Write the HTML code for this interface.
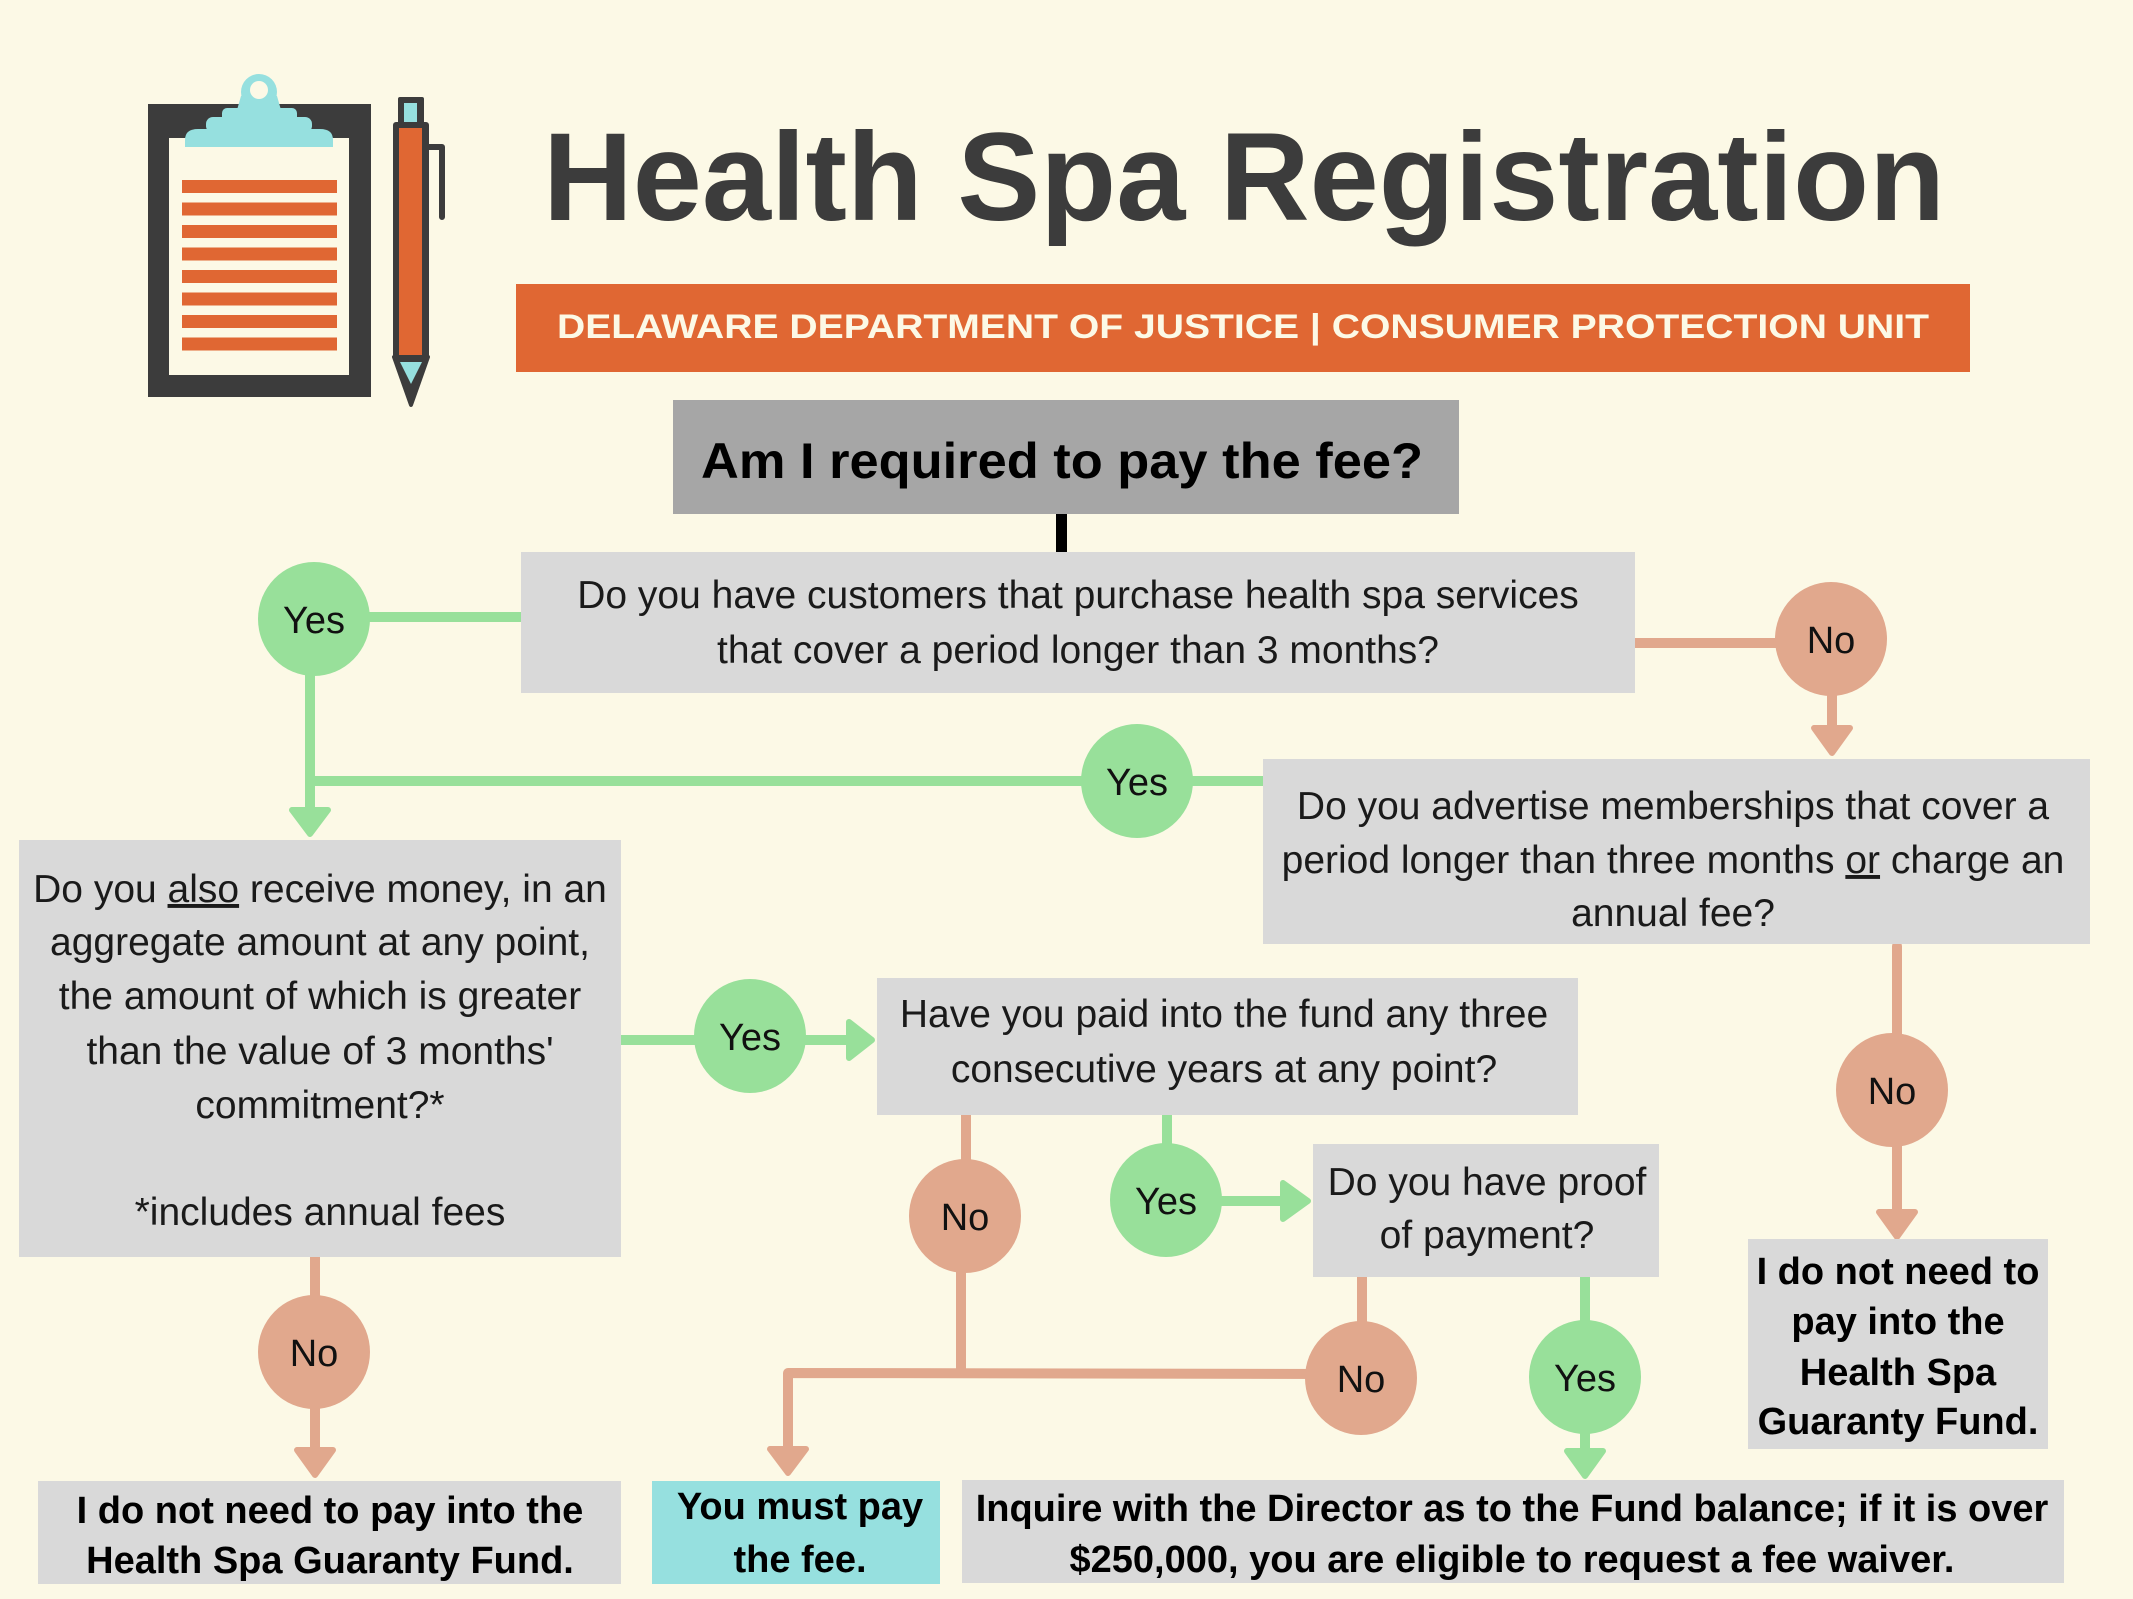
<!DOCTYPE html>
<html>
<head>
<meta charset="utf-8">
<style>
html,body{margin:0;padding:0;background:#FCF9E6;}
svg{display:block;}
.q{font-family:"Liberation Sans",sans-serif;font-size:39px;fill:#1a1a1a;text-anchor:middle;}
.b{font-family:"Liberation Sans",sans-serif;font-size:38px;font-weight:bold;fill:#000;text-anchor:middle;}
.lbl{font-family:"Liberation Sans",sans-serif;font-size:38px;fill:#111;text-anchor:middle;}
</style>
</head>
<body>
<svg width="2133" height="1599" viewBox="0 0 2133 1599" xmlns="http://www.w3.org/2000/svg">
<rect x="0" y="0" width="2133" height="1599" fill="#FCF9E6"/>

<!-- Clipboard icon -->
<rect x="148" y="104" width="223" height="293" fill="#3C3C3C"/>
<rect x="169" y="138" width="180" height="237" fill="#FCF9E6"/>
<g fill="#E06733">
<rect x="182" y="180" width="155" height="13"/>
<rect x="182" y="202.5" width="155" height="13"/>
<rect x="182" y="225" width="155" height="13"/>
<rect x="182" y="247.5" width="155" height="13"/>
<rect x="182" y="270" width="155" height="13"/>
<rect x="182" y="292.5" width="155" height="13"/>
<rect x="182" y="315" width="155" height="13"/>
<rect x="182" y="337.5" width="155" height="13"/>
</g>
<g fill="#96E0DF">
<circle cx="259" cy="92" r="18"/>
<path d="M241 96 L277 96 L281 110 L237 110 Z"/>
<rect x="222" y="108" width="75" height="14" rx="5"/>
<rect x="206" y="117" width="106" height="16" rx="7"/>
<path d="M185 147 L185 140 Q185 129 198 129 L320 129 Q333 129 333 140 L333 147 Z"/>
</g>
<circle cx="259" cy="90" r="9" fill="#FCF9E6"/>

<!-- Pen icon -->
<rect x="398" y="97" width="26" height="30" rx="2" fill="#3C3C3C"/>
<rect x="404" y="103" width="13" height="19" fill="#96E0DF"/>
<rect x="393" y="122" width="36" height="237" rx="3" fill="#3C3C3C"/>
<rect x="399" y="128" width="23" height="227" fill="#E06733"/>
<path d="M429 147 L442 147 L442 217" fill="none" stroke="#3C3C3C" stroke-width="6" stroke-linecap="round" stroke-linejoin="round"/>
<polygon points="394,357 428,357 411,405" fill="#3C3C3C" stroke="#3C3C3C" stroke-width="4" stroke-linejoin="round"/>
<polygon points="400,362 422,362 411,384" fill="#96E0DF"/>

<!-- Title -->
<text x="543" y="220" font-family="Liberation Sans, sans-serif" font-weight="bold" font-size="125" fill="#3C3C3C" textLength="1402" lengthAdjust="spacingAndGlyphs">Health Spa Registration</text>

<!-- Banner -->
<rect x="516" y="284" width="1454" height="88" fill="#E06733"/>
<text x="557" y="338" font-family="Liberation Sans, sans-serif" font-weight="bold" font-size="34" fill="#FCF9E6" textLength="1372" lengthAdjust="spacingAndGlyphs">DELAWARE DEPARTMENT OF JUSTICE | CONSUMER PROTECTION UNIT</text>

<!-- Question title box -->
<rect x="673" y="400" width="786" height="114" fill="#A6A6A6"/>
<text x="701" y="478" font-family="Liberation Sans, sans-serif" font-weight="bold" font-size="50" fill="#000" textLength="722" lengthAdjust="spacingAndGlyphs">Am I required to pay the fee?</text>
<rect x="1056" y="514" width="11" height="39" fill="#000"/>

<!-- Connectors: green -->
<g stroke="#98E09A" stroke-width="10" fill="none" stroke-linecap="butt">
<line x1="314" y1="617" x2="522" y2="617"/>
<line x1="310" y1="619" x2="310" y2="812"/>
<line x1="305" y1="781" x2="1264" y2="781"/>
<line x1="621" y1="1040" x2="852" y2="1040"/>
<line x1="1167" y1="1114" x2="1167" y2="1200"/>
<line x1="1166" y1="1201" x2="1286" y2="1201"/>
<line x1="1585" y1="1276" x2="1585" y2="1453"/>
</g>
<g fill="#98E09A" stroke="#98E09A" stroke-width="6" stroke-linejoin="round">
<polygon points="292,810 328,810 310,834"/>
<polygon points="849,1022 849,1058 872,1040"/>
<polygon points="1283,1183 1283,1219 1308,1201"/>
<polygon points="1567,1451 1603,1451 1585,1476"/>
</g>

<!-- Connectors: orange -->
<g stroke="#E1A88D" stroke-width="10" fill="none" stroke-linecap="round" stroke-linejoin="round">
<line x1="1634" y1="643" x2="1831" y2="643"/>
<line x1="1832" y1="640" x2="1832" y2="730"/>
<line x1="1897" y1="946" x2="1897" y2="1214"/>
<line x1="315" y1="1257" x2="315" y2="1452"/>
<line x1="966" y1="1115" x2="966" y2="1216"/>
<line x1="961" y1="1216" x2="961" y2="1373"/>
<polyline points="1340,1374 788,1373 788,1451"/>
<line x1="1362" y1="1277" x2="1362" y2="1378"/>
</g>
<g fill="#E1A88D" stroke="#E1A88D" stroke-width="6" stroke-linejoin="round">
<polygon points="1814,728 1850,728 1832,753"/>
<polygon points="1879,1212 1915,1212 1897,1237"/>
<polygon points="297,1450 333,1450 315,1475"/>
<polygon points="770,1449 806,1449 788,1473"/>
</g>

<!-- Boxes -->
<rect x="521" y="552" width="1114" height="141" fill="#D9D9D9"/>
<rect x="1263" y="759" width="827" height="185" fill="#D9D9D9"/>
<rect x="19" y="840" width="602" height="417" fill="#D9D9D9"/>
<rect x="877" y="978" width="701" height="137" fill="#D9D9D9"/>
<rect x="1313" y="1144" width="346" height="133" fill="#D9D9D9"/>
<rect x="38" y="1481" width="583" height="103" fill="#D9D9D9"/>
<rect x="652" y="1481" width="288" height="103" fill="#96E0DF"/>
<rect x="962" y="1480" width="1102" height="103" fill="#D9D9D9"/>
<rect x="1748" y="1239" width="300" height="210" fill="#D9D9D9"/>

<!-- Circles -->
<g fill="#98E09A">
<ellipse cx="314" cy="619" rx="56" ry="57"/>
<ellipse cx="1137" cy="781" rx="56" ry="57"/>
<ellipse cx="750" cy="1036" rx="56" ry="57"/>
<ellipse cx="1166" cy="1200" rx="56" ry="57"/>
<ellipse cx="1585" cy="1377" rx="56" ry="57"/>
</g>
<g fill="#E1A88D">
<ellipse cx="1831" cy="639" rx="56" ry="57"/>
<ellipse cx="1892" cy="1090" rx="56" ry="57"/>
<ellipse cx="314" cy="1352" rx="56" ry="57"/>
<ellipse cx="965" cy="1216" rx="56" ry="57"/>
<ellipse cx="1361" cy="1378" rx="56" ry="57"/>
</g>

<!-- Circle labels -->
<text class="lbl" x="314" y="633">Yes</text>
<text class="lbl" x="1137" y="795">Yes</text>
<text class="lbl" x="750" y="1050">Yes</text>
<text class="lbl" x="1166" y="1214">Yes</text>
<text class="lbl" x="1585" y="1391">Yes</text>
<text class="lbl" x="1831" y="653">No</text>
<text class="lbl" x="1892" y="1104">No</text>
<text class="lbl" x="314" y="1366">No</text>
<text class="lbl" x="965" y="1230">No</text>
<text class="lbl" x="1361" y="1392">No</text>

<!-- Question texts -->
<text class="q" x="1078" y="608">Do you have customers that purchase health spa services</text>
<text class="q" x="1078" y="663">that cover a period longer than 3 months?</text>

<text class="q" x="1673" y="819">Do you advertise memberships that cover a</text>
<text class="q" x="1673" y="873">period longer than three months <tspan style="text-decoration:underline">or</tspan> charge an</text>
<text class="q" x="1673" y="926">annual fee?</text>

<text class="q" x="320" y="902">Do you <tspan style="text-decoration:underline">also</tspan> receive money, in an</text>
<text class="q" x="320" y="955">aggregate amount at any point,</text>
<text class="q" x="320" y="1009">the amount of which is greater</text>
<text class="q" x="320" y="1064">than the value of 3 months'</text>
<text class="q" x="320" y="1118">commitment?*</text>
<text class="q" x="320" y="1225">*includes annual fees</text>

<text class="q" x="1224" y="1027">Have you paid into the fund any three</text>
<text class="q" x="1224" y="1082">consecutive years at any point?</text>

<text class="q" x="1487" y="1195">Do you have proof</text>
<text class="q" x="1487" y="1248">of payment?</text>

<!-- Result texts -->
<text class="b" x="330" y="1523">I do not need to pay into the</text>
<text class="b" x="330" y="1573">Health Spa Guaranty Fund.</text>

<text class="b" x="800" y="1519" font-size="40">You must pay</text>
<text class="b" x="800" y="1572" font-size="40">the fee.</text>

<text class="b" x="1512" y="1521">Inquire with the Director as to the Fund balance; if it is over</text>
<text class="b" x="1512" y="1572">$250,000, you are eligible to request a fee waiver.</text>

<text class="b" x="1898" y="1284">I do not need to</text>
<text class="b" x="1898" y="1334">pay into the</text>
<text class="b" x="1898" y="1385">Health Spa</text>
<text class="b" x="1898" y="1434">Guaranty Fund.</text>
</svg>
</body>
</html>
